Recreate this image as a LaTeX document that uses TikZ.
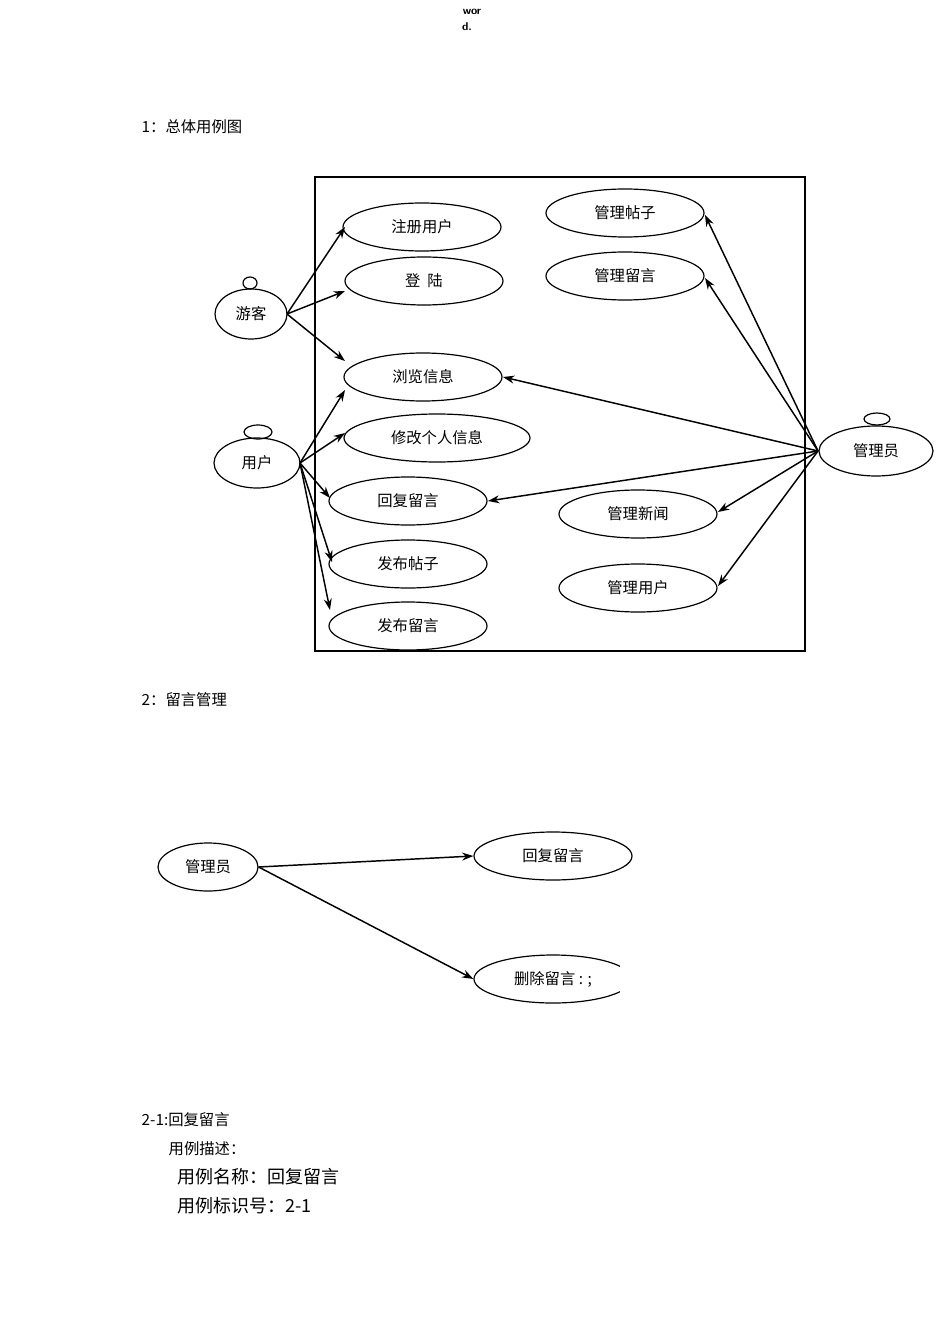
\documentclass[tikz,border=0pt]{standalone}
\usepackage{fontspec}
\setmainfont{Liberation Serif}
\newfontfamily\cjk{Noto Sans CJK SC}
\usetikzlibrary{arrows.meta,shapes.geometric}
\begin{document}
\begin{tikzpicture}[x=0.75pt,y=-0.75pt,
  arr/.style={-{Stealth[length=8.5pt,width=6pt]},line width=1.1pt},
  txt/.style={anchor=west,font=\cjk\fontsize{11.5}{13}\selectfont},
  ue/.style args={#1/#2}{draw,ellipse,line width=0.9pt,inner sep=0pt,minimum width=#1*0.75pt,minimum height=#2*0.75pt,font=\cjk\fontsize{11.5}{12}\selectfont}]
\useasboundingbox[fill=white] (0,0) rectangle (950,1344);
\node[font=\sffamily\bfseries\fontsize{8.5}{9}\selectfont] (w1) at (472,12) {wor};
\node[font=\sffamily\bfseries\fontsize{8.5}{9}\selectfont] (w2) at (467,27) {d.};
\node[txt] (t1) at (137,127) {1：总体用例图};
\draw[line width=1.1pt] (315,177) rectangle (805,651);
\node[ue=158/48] (a1) at (422,227) {注册用户};
\node[ue=158/48] (a2) at (424,281) {登\ \ 陆};
\node[ue=158/48] (a3) at (423,377) {浏览信息};
\node[ue=186/48] (a4) at (437,438) {修改个人信息};
\node[ue=158/48] (a5) at (408,501) {回复留言};
\node[ue=158/48] (a6) at (408,564) {发布帖子};
\node[ue=158/48] (a7) at (408,626) {发布留言};
\node[ue=158/48] (b1) at (625,213) {管理帖子};
\node[ue=158/48] (b2) at (625,276) {管理留言};
\node[ue=158/48] (b3) at (638,514) {管理新闻};
\node[ue=158/48] (b4) at (638,588) {管理用户};
\node[ue=72/50] (g) at (251,314) {游客};
\node[ue=14/12] (gh) at (250,283) {};
\node[ue=86/50] (u) at (257,463) {用户};
\node[ue=28/14] (uh) at (258,432) {};
\node[ue=114/50] (m) at (876,451) {管理员};
\node[ue=26/12] (mh) at (877,419) {};
\coordinate (gs) at (287,314);
\coordinate (us) at (300,463);
\coordinate (ms) at (818,451);
\draw[arr] (gs) -- (345,227);
\draw[arr] (gs) -- (345,291);
\draw[arr] (gs) -- (345,361);
\draw[arr] (us) -- (345,390);
\draw[arr] (us) -- (345,433);
\draw[arr] (us) -- (330,498);
\draw[arr] (us) -- (332,562);
\draw[arr] (us) -- (330,610);
\draw[arr] (ms) -- (705,215);
\draw[arr] (ms) -- (705,278);
\draw[arr] (ms) -- (503,377);
\draw[arr] (ms) -- (488,501);
\draw[arr] (ms) -- (718,512);
\draw[arr] (ms) -- (718,586);
\node[txt] (t2) at (137,700) {2：留言管理};
\node[ue=100/48] (m2) at (208,867) {管理员};
\node[ue=158/48] (c1) at (553,856) {回复留言};
\node[ue=158/48] (c2) at (553,979) {删除留言 : ;};
\fill[white] (620,955) rectangle (640,1005);
\draw[arr] (m2.east) -- (c1.west);
\draw[arr] (m2.east) -- (c2.west);
\node[txt] (t3) at (137,1120) {2-1:回复留言};
\node[txt] (t4) at (164,1149) {用例描述：};
\node[txt,font=\cjk\fontsize{13.5}{15}\selectfont] (t5) at (173,1177) {用例名称：回复留言};
\node[txt,font=\cjk\fontsize{13.5}{15}\selectfont] (t6) at (173,1206) {用例标识号：2-1};
\end{tikzpicture}
\end{document}
